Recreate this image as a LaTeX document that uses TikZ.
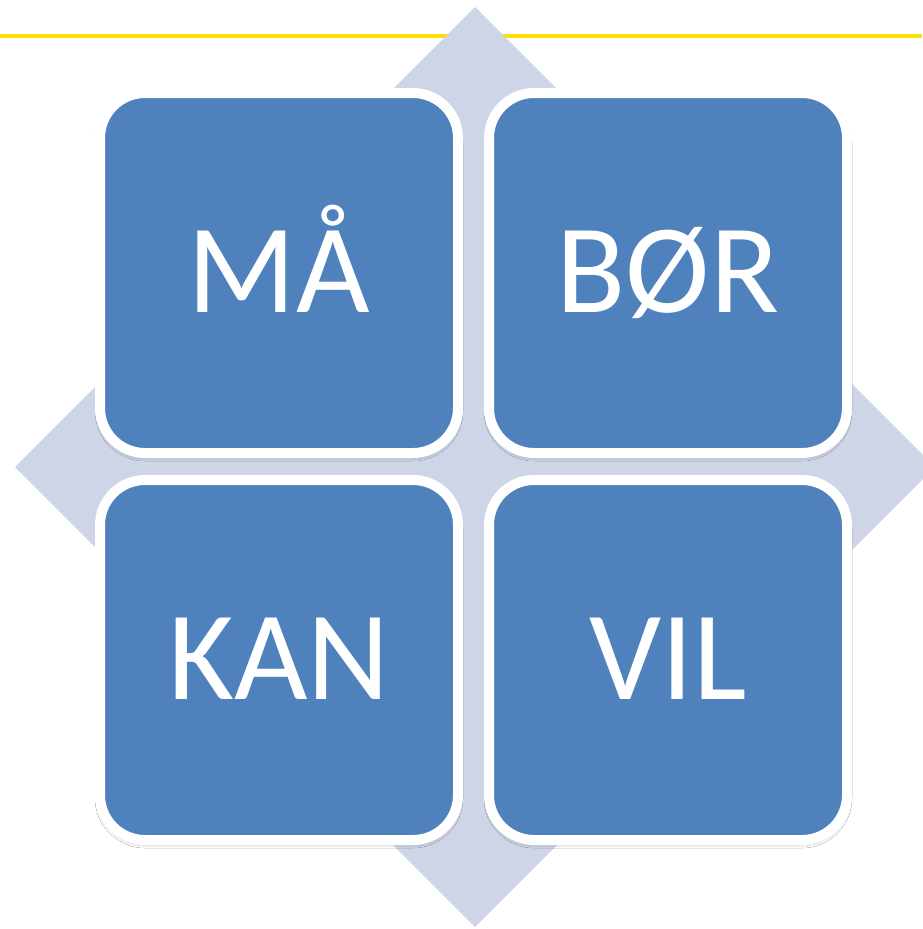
\documentclass[tikz,border=0pt]{standalone}
\usepackage{fontspec}
\setmainfont{Carlito}
\usetikzlibrary{shadows.blur}
\definecolor{boxblue}{HTML}{4F81BD}
\definecolor{diamondgray}{HTML}{CDD5E6}
\definecolor{lineyellow}{HTML}{FFDD00}
\begin{document}
\begin{tikzpicture}[x=1pt,y=-1pt,
  quad/.style={rectangle, rounded corners=45pt, minimum width=358pt, minimum height=360pt,
    fill=boxblue, draw=white, line width=10pt, text=white,
    font=\fontsize{127}{127}\selectfont, text height=79pt, text depth=0pt, inner sep=0pt,
    blur shadow={shadow xshift=0pt, shadow yshift=-3pt, shadow blur radius=5pt, shadow opacity=45}}]
\useasboundingbox (0,0) rectangle (922,929);
\fill[white] (0,0) rectangle (922,929);
\draw[lineyellow, line width=4pt] (0,35.5) -- (922,35.5);
\fill[diamondgray] (475,7) -- (935,467) -- (475,927) -- (15,467) -- cycle;
\node[quad] (ma) at (279,273) {MÅ};
\node[quad] (bor) at (668,273) {BØR};
\node[quad] (kan) at (279,660) {KAN};
\node[quad] (vil) at (668,660) {VIL};
\end{tikzpicture}
\end{document}
